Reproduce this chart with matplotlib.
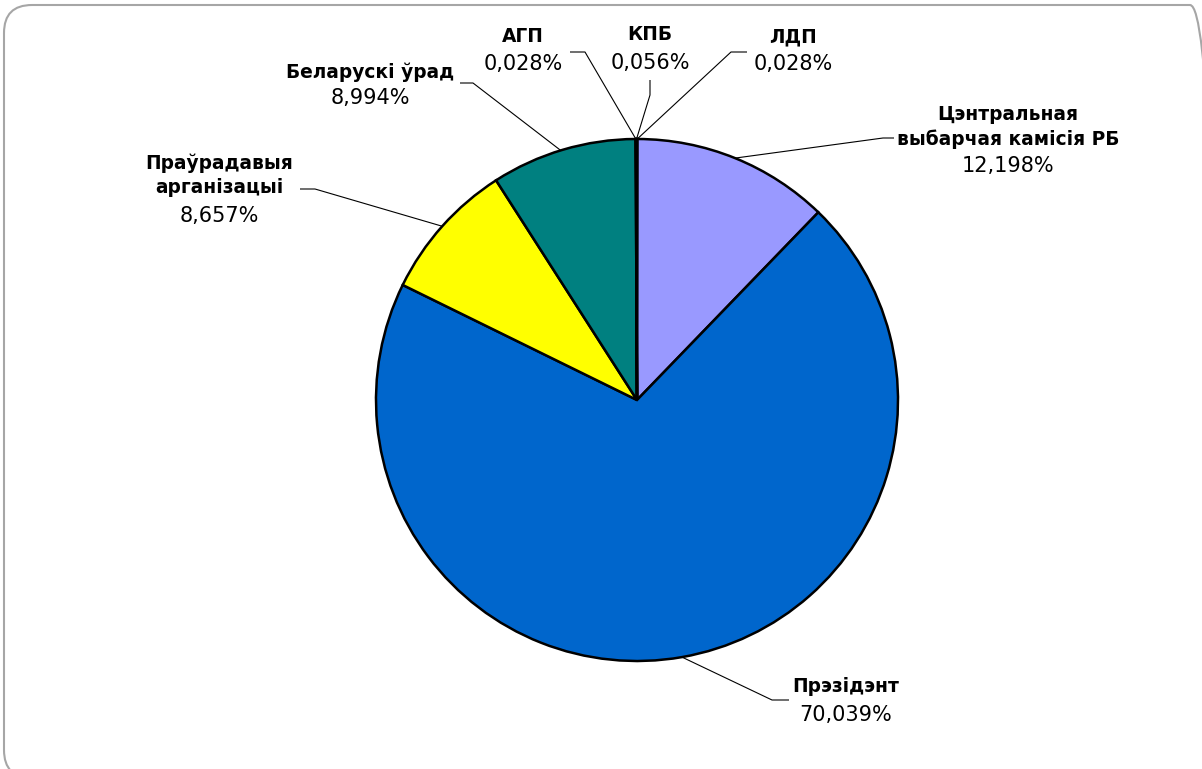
"""
Кругавая дыяграма: размеркаванне паводле крыніц
"""

import matplotlib
matplotlib.use("Agg")
import matplotlib.pyplot as plt
from matplotlib.patches import FancyBboxPatch
import numpy as np

W, H = 1202, 769

# ── data (clockwise from 12 o'clock) ──
NAMES = ["ЛДП", "Цэнтральная\nвыбарчая камісія РБ", "Прэзідэнт",
         "Праўрадавыя\nарганізацыі", "Беларускі ўрад", "АГП", "КПБ"]
SHARES = [0.028, 12.198, 70.039, 8.657, 8.994, 0.028, 0.056]
PCT_TEXT = ["0,028%", "12,198%", "70,039%", "8,657%", "8,994%", "0,028%", "0,056%"]
COLORS = ["#993366", "#9999FF", "#0066CC", "#FFFF00", "#008080", "#FFFFCC", "#CCFFFF"]

# ── layout (image pixels, y down) ──
CX, CY, R = 637, 400, 261
# label centre x, name block centre y, percent centre y
LABEL_POS = [(793, 37, 64), (1008, 127, 166), (846, 687, 715),
             (219, 175, 216), (370, 72, 98), (523, 37, 64), (650, 35, 63)]
# leader: elbow point, end point
LEADERS = [((731, 52), (747, 52)), ((883, 138), (894, 138)), ((772, 700), (789, 700)),
           ((315, 189), (300, 189)), ((473, 83), (460, 83)), ((585, 52), (570, 52)),
           ((650, 95), (650, 80))]
ANCHOR_OVERRIDE = {4: 343.0}  # degrees clockwise from top


def fy(y):
    return H - y


def main():
    fig = plt.figure(figsize=(W / 100, H / 100), dpi=100)
    ax = fig.add_axes([0, 0, 1, 1])

    ax.pie(SHARES, colors=COLORS, startangle=90, counterclock=False,
           center=(CX, fy(CY)), radius=R,
           wedgeprops=dict(edgecolor="black", linewidth=1.8))

    total = sum(SHARES)
    cum = np.cumsum([0] + SHARES)
    for i, name in enumerate(NAMES):
        mid = (cum[i] + SHARES[i] / 2) / total * 360
        ang = np.deg2rad(ANCHOR_OVERRIDE.get(i, mid))
        ax0, ay0 = CX + R * np.sin(ang), CY - R * np.cos(ang)
        (ex, ey), (tx, ty) = LEADERS[i]
        ax.plot([ax0, ex, tx], [fy(ay0), fy(ey), fy(ty)], color="black",
                linewidth=0.8, solid_capstyle="butt", zorder=3)

        lx, ny, py = LABEL_POS[i]
        ax.text(lx, fy(ny), name, ha="center", va="center", fontsize=13.4,
                fontweight="bold", linespacing=1.35, family="DejaVu Sans")
        ax.text(lx, fy(py), PCT_TEXT[i], ha="center", va="center", fontsize=15,
                family="DejaVu Sans")

    # rounded chart frame
    frame = FancyBboxPatch((4, fy(778)), 1214, 773,
                           boxstyle="round,pad=0,rounding_size=28",
                           facecolor="none", edgecolor="#A6A6A6", linewidth=1.5,
                           clip_on=False)
    ax.add_patch(frame)

    ax.set_xlim(0, W)
    ax.set_ylim(0, H)
    ax.set_aspect("equal")
    ax.axis("off")
    fig.savefig("out.png", dpi=100)
    plt.close(fig)


if __name__ == "__main__":
    main()
